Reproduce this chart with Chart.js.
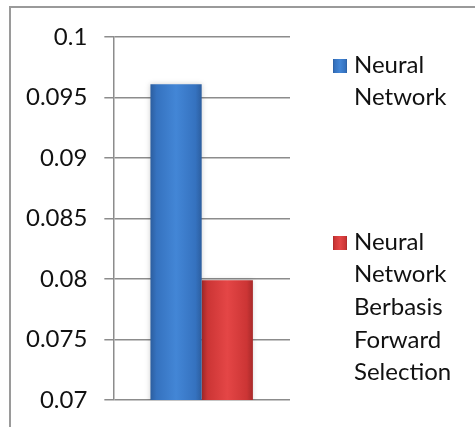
<!DOCTYPE html>
<html>
<head>
<meta charset="utf-8">
<script src="https://cdn.jsdelivr.net/npm/chart.js@4/dist/chart.umd.min.js"></script>
<style>
  html, body { margin: 0; padding: 0; background: #fff; }
  #wrap { width: 475px; height: 427px; position: relative; }
</style>
</head>
<body>
<div id="wrap"><canvas id="c" width="475" height="427"></canvas></div>
<script>
// Chart data
const categories = [''];
const seriesNames = [
  ['Neural', 'Network'],
  ['Neural', 'Network', 'Berbasis', 'Forward', 'Selection']
];
const neuralNetwork = [0.0961];
const neuralNetworkFS = [0.0799];
const yTicks = [0.07, 0.075, 0.08, 0.085, 0.09, 0.095, 0.1];

const FONT = 'Lato, "Open Sans", sans-serif';

// Glossy horizontal shading for bars and legend boxes
const palettes = [
  { dark: '#2c5e9f', mid: '#3572bf', light: '#4386d6' },
  { dark: '#a82a2a', mid: '#cc3535', light: '#e44646' }
];
function shade(ctx2d, x0, x1, p) {
  const g = ctx2d.createLinearGradient(x0, 0, x1, 0);
  g.addColorStop(0, p.dark);
  g.addColorStop(0.12, p.mid);
  g.addColorStop(0.5, p.light);
  g.addColorStop(0.88, p.mid);
  g.addColorStop(1, p.dark);
  return g;
}

const CAT_PCT = 0.58;
function barFill(context) {
  const chart = context.chart;
  const p = palettes[context.datasetIndex];
  const xs = chart.scales.x;
  if (!chart.chartArea || !xs) return p.mid;
  const center = xs.getPixelForValue(context.dataIndex);
  const w = xs.width * CAT_PCT / 2;
  const x0 = context.datasetIndex === 0 ? center - w : center;
  return shade(chart.ctx, x0, x0 + w, p);
}

// Frame lines along the top and left edges
const framePlugin = {
  id: 'frame',
  beforeDraw(chart) {
    const c = chart.ctx;
    c.save();
    c.strokeStyle = '#9a9a9a';
    c.lineWidth = 2;
    c.beginPath();
    c.moveTo(10, chart.height);
    c.lineTo(10, 7);
    c.lineTo(chart.width, 7);
    c.stroke();
    c.restore();
  }
};

// Soft halo behind the bars
const barShadow = {
  id: 'barShadow',
  beforeDatasetsDraw(chart) {
    const c = chart.ctx;
    c.save();
    c.shadowColor = 'rgba(0,0,0,0.18)';
    c.shadowBlur = 5;
  },
  afterDatasetsDraw(chart) {
    chart.ctx.restore();
  }
};

// Legend with wrapped entries at the right side
const sideLegend = {
  id: 'sideLegend',
  afterDraw(chart) {
    const c = chart.ctx;
    const boxX = 333, box = 14, textX = 354, lineH = 32.6;
    const firstLineY = [65, 242];
    c.save();
    c.font = '24px ' + FONT;
    c.textBaseline = 'middle';
    c.textAlign = 'left';
    chart.data.datasets.forEach((ds, i) => {
      const y0 = firstLineY[i];
      c.fillStyle = shade(c, boxX, boxX + box, palettes[i]);
      c.fillRect(boxX, y0 - 6, box, box);
      c.fillStyle = '#111';
      ds.label.forEach((line, k) => {
        c.fillText(line, textX, y0 + k * lineH);
      });
    });
    c.restore();
  }
};

new Chart(document.getElementById('c'), {
  type: 'bar',
  data: {
    labels: categories,
    datasets: [
      { label: seriesNames[0], data: neuralNetwork, backgroundColor: barFill, borderWidth: 0 },
      { label: seriesNames[1], data: neuralNetworkFS, backgroundColor: barFill, borderWidth: 0 }
    ]
  },
  options: {
    responsive: false,
    animation: false,
    events: [],
    layout: { padding: { left: 9, right: 185, top: 37, bottom: 27 } },
    datasets: { bar: { categoryPercentage: CAT_PCT, barPercentage: 1 } },
    plugins: { legend: { display: false }, tooltip: { enabled: false } },
    scales: {
      x: { display: false, offset: true },
      y: {
        min: 0.07,
        max: 0.1,
        afterBuildTicks(axis) { axis.ticks = yTicks.map(v => ({ value: v })); },
        afterFit(axis) { axis.paddingTop = 0; axis.paddingBottom = 0; },
        ticks: {
          color: '#111',
          font: { family: FONT, size: 24 },
          padding: 17,
          callback: v => String(+v.toFixed(3))
        },
        grid: { color: '#8c8c8c', lineWidth: 1.5, tickLength: 9, drawTicks: true },
        border: { color: '#8c8c8c', width: 1.5 }
      }
    }
  },
  plugins: [framePlugin, barShadow, sideLegend]
});
</script>
</body>
</html>
